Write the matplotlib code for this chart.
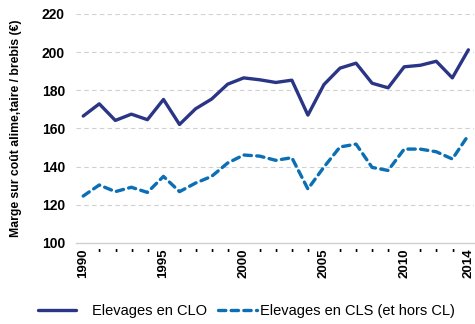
import matplotlib.pyplot as plt
import numpy as np

plt.rcParams['font.family'] = ['Liberation Sans', 'DejaVu Sans']

years = list(range(1990, 2015))
clo = [166.5, 172.9, 164.2, 167.5, 164.6, 175.2, 162.1, 170.3, 175.4, 183.2,
       186.5, 185.5, 184.1, 185.3, 167.0, 183.0, 191.6, 194.2, 183.7, 181.3,
       192.3, 193.1, 195.2, 186.5, 201.2]
cls = [124.6, 130.4, 126.9, 129.2, 126.5, 134.9, 126.9, 131.4, 134.9, 141.9,
       146.1, 145.5, 143.3, 144.7, 128.3, 139.8, 150.3, 151.8, 139.6, 138.0,
       149.2, 149.2, 147.8, 144.0, 156.5]
xlabels = [str(y) if (y % 5 == 0 or y == 2014) else "'" for y in years]
yticks = [100, 120, 140, 160, 180, 200, 220]

fig = plt.figure(figsize=(4.75, 3.24), dpi=100)
ax = fig.add_axes([76 / 475, 0.25, 398 / 475, 0.707])

l1, = ax.plot(years, clo, color='#2b3585', lw=2.4, solid_capstyle='round',
              label='Elevages en CLO')
l2, = ax.plot(years, cls, color='#0a6fb5', lw=2.4, dashes=(2.2, 1.6),
              dash_capstyle='round', label='Elevages en CLS (et hors CL)')

ax.set_xlim(1989.55, 2014.35)
ax.set_ylim(100, 220)
ax.set_yticks(yticks)
ax.set_yticklabels([str(v) for v in yticks], fontsize=10, fontweight='bold')
ax.set_xticks(years)
ax.set_xticklabels(xlabels, rotation=90, fontsize=9.5, fontweight='bold')
# the in-between years only carry an apostrophe, kept upright
for t in ax.get_xticklabels():
    if t.get_text() == "'":
        t.set_rotation(0)
ax.tick_params(axis='both', length=0, pad=4)
ax.tick_params(axis='y', pad=8)

for v in yticks[1:]:
    ax.axhline(v, color='#d0d0d0', lw=0.8, dashes=(4, 3), zorder=0)
for s in ['top', 'right', 'left']:
    ax.spines[s].set_visible(False)
ax.spines['bottom'].set_color('#d0d0d0')
ax.spines['bottom'].set_linewidth(1.0)

ax.set_ylabel('Marge sur coût alime,taire / brebis (€)', fontsize=8.8,
              fontweight='bold')
ax.yaxis.set_label_coords(-0.135, 0.5)

# two separate legend entries so each gap can be set on its own
leg1 = fig.legend(handles=[l1], loc='center left', bbox_to_anchor=(38 / 475, 0.04),
                  frameon=False, fontsize=10.5, handlelength=2.6,
                  handletextpad=1.1, borderpad=0, borderaxespad=0)
leg2 = fig.legend(handles=[l2], loc='center left', bbox_to_anchor=(218 / 475, 0.04),
                  frameon=False, fontsize=10.5, handlelength=2.7,
                  handletextpad=0.15, borderpad=0, borderaxespad=0)

fig.savefig('out.png', dpi=100)
